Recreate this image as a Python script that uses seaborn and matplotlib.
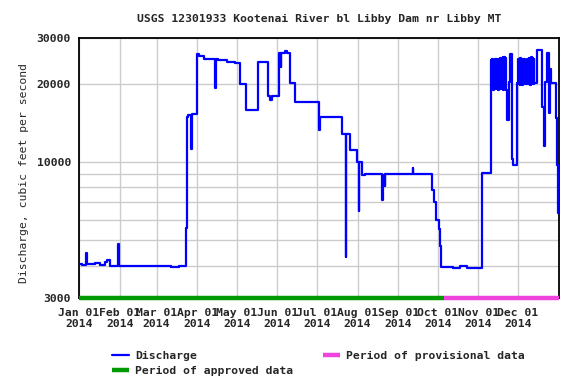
import numpy as np
import pandas as pd
import seaborn as sns
import matplotlib
matplotlib.use('Agg')
import matplotlib.pyplot as plt
import matplotlib.dates as mdates
from matplotlib.ticker import FixedLocator, NullFormatter, FuncFormatter

# Discharge: day of year (from 2014-01-01) and cfs, held until next point
winter_day = [0, 2, 5.5, 5.8, 12, 16, 19.8, 21.5, 23.6, 30.0, 30.4, 38, 45, 52, 60, 70, 76]
winter_cfs = [4060, 4030, 4450, 4050, 4080, 4030, 4120, 4200, 3990, 4850, 3980, 4000, 3970, 3990, 3980, 3960, 3980]

spring_day = [81.5, 82.3, 83.2, 85.5, 85.8, 89.7, 91.5, 95, 103.6, 104.0, 106, 112.5, 118.9,
              122.2, 127.3, 135.9, 143.5, 145.5, 147, 152.4, 153.7, 154.0, 156.5, 158.5, 160.3, 164.1]
spring_cfs = [5600, 14900, 15200, 11200, 15300, 26000, 25500, 25000, 19300, 24900, 24600, 24300, 24000,
              19950, 15800, 24200, 17900, 17400, 17900, 26200, 23300, 26300, 26700, 26200, 20100, 17000]

summer_day = [182.4, 182.7, 183.1, 200.2, 203.0, 203.3, 206.0, 211.8, 213.1, 213.4, 215.1, 218,
              230.8, 231.1, 233.0, 233.2, 240, 254, 254.3]
summer_cfs = [14500, 13300, 14900, 12800, 4310, 12800, 11100, 10000, 6460, 10000, 8900, 9000,
              7150, 8950, 8100, 9000, 9000, 9500, 9000]

fall_day = [268.9, 270.2, 271.7, 273.7, 274.7, 275.3, 285, 290, 295, 300, 306.4]
fall_cfs = [7800, 7000, 6000, 5550, 4740, 3950, 3900, 3970, 3900, 3920, 9060]

nov_day = [313.5, 314.0, 314.5, 315.0, 315.5, 316.0, 316.5, 317.0, 317.5, 318.0, 318.5, 319.0,
           319.5, 320.0, 320.5, 321.0, 321.5, 322.0, 322.5, 323.0, 323.5, 324.0, 324.4,
           324.7, 325.5, 327.0, 328.0, 329.3, 330.5]
nov_cfs = [24600, 19200, 24800, 19000, 24700, 19300, 24900, 19100, 24800, 19200, 25000, 19000,
           24900, 19300, 25100, 19100, 25000, 19200, 25300, 19000, 25400, 19100, 25200,
           19000, 14500, 20400, 26000, 10300, 9770]

dec_day = [333.6, 334.0, 334.5, 335.0, 335.5, 336.0, 336.5, 337.0, 337.5, 338.0, 338.5, 339.0,
           339.3, 341.1, 341.6, 342.1, 342.6, 343.1, 343.6, 344.1, 344.6, 345.1, 345.6, 346.0,
           346.3, 348.3, 352.1, 353.9, 354.9, 355.9, 358.0, 358.7, 359.5, 363.0, 363.8, 364.3, 365.0]
dec_cfs = [20100, 25000, 20000, 24900, 19800, 25100, 20000, 24800, 19700, 25000, 20100, 24900,
           20000, 25000, 19900, 25200, 20100, 24900, 19800, 25300, 20000, 25100, 19900, 25000,
           20100, 27000, 16300, 11500, 20400, 26200, 15400, 22700, 20100, 14800, 9770, 6350, 6350]

approved_span = ['2014-01-01', '2014-10-06']
provisional_span = ['2014-10-06', '2015-01-01']

month_ticks = pd.date_range('2014-01-01', '2014-12-01', freq='MS')
y_major = [3000, 10000, 20000, 30000]
y_minor = [4000, 5000, 6000, 7000, 8000, 9000]

start = pd.Timestamp('2014-01-01')
days = winter_day + spring_day + summer_day + fall_day + nov_day + dec_day
cfs = winter_cfs + spring_cfs + summer_cfs + fall_cfs + nov_cfs + dec_cfs
df = pd.DataFrame({'date': start + pd.to_timedelta(days, unit='D'), 'cfs': cfs})

sns.set_style('white')
plt.rcParams['font.family'] = ['DejaVu Sans Mono']
plt.rcParams['font.weight'] = 'bold'
plt.rcParams['font.size'] = 8.2

fig, ax = plt.subplots(figsize=(5.76, 3.84), dpi=100)
fig.subplots_adjust(left=79/576, right=558.6/576, top=1-38/384, bottom=1-298/384)

sns.lineplot(data=df, x='date', y='cfs', ax=ax, color='#0000ff', lw=1.6,
             drawstyle='steps-post', estimator=None, legend=False, zorder=3)
h_q = ax.lines[-1]

appr = pd.DataFrame({'date': pd.to_datetime(approved_span), 'cfs': [3000, 3000]})
prov = pd.DataFrame({'date': pd.to_datetime(provisional_span), 'cfs': [3000, 3000]})
sns.lineplot(data=appr, x='date', y='cfs', ax=ax, color='#009900', lw=3.2,
             estimator=None, legend=False, clip_on=False, zorder=5, solid_capstyle='butt')
h_a = ax.lines[-1]
sns.lineplot(data=prov, x='date', y='cfs', ax=ax, color='#ee44dd', lw=3.2,
             estimator=None, legend=False, clip_on=False, zorder=5, solid_capstyle='butt')
h_p = ax.lines[-1]

ax.set_yscale('log')
ax.set_ylim(3000, 30000)
ax.set_xlim(pd.Timestamp('2014-01-01'), pd.Timestamp('2015-01-01'))

ax.yaxis.set_major_locator(FixedLocator(y_major))
ax.yaxis.set_major_formatter(FuncFormatter(lambda v, p: '%d' % v))
ax.yaxis.set_minor_locator(FixedLocator(y_minor))
ax.yaxis.set_minor_formatter(NullFormatter())

ax.xaxis.set_major_locator(FixedLocator(mdates.date2num(month_ticks)))
ax.xaxis.set_major_formatter(mdates.DateFormatter('%b %d\n%Y'))

ax.grid(True, which='both', color='#cccccc', lw=1)
ax.set_axisbelow(True)
ax.tick_params(axis='both', which='both', length=0)
ax.tick_params(axis='y', pad=5.8)
ax.tick_params(axis='x', pad=7)
for t in ax.get_xticklabels():
    t.set_linespacing(1.1)

for s in ax.spines.values():
    s.set_color('black')
    s.set_linewidth(1.3)

ax.set_xlabel('')
ax.set_ylabel('Discharge, cubic feet per second')
ax.yaxis.set_label_coords(-0.104, 0.479)

fig.suptitle('USGS 12301933 Kootenai River bl Libby Dam nr Libby MT',
             x=318.8/576, y=1-19/384, va='center', fontsize=8.2, fontweight='bold')

fig.legend([h_q, h_a, h_p], ['Discharge', 'Period of approved data', 'Period of provisional data'],
           ncol=2, frameon=False, loc='upper left', bbox_to_anchor=(112/576, 1-351/384),
           handlelength=1.5, handletextpad=0.55, columnspacing=2.6, borderpad=0,
           borderaxespad=0, labelspacing=0.45)

fig.savefig('out.png', dpi=100)
